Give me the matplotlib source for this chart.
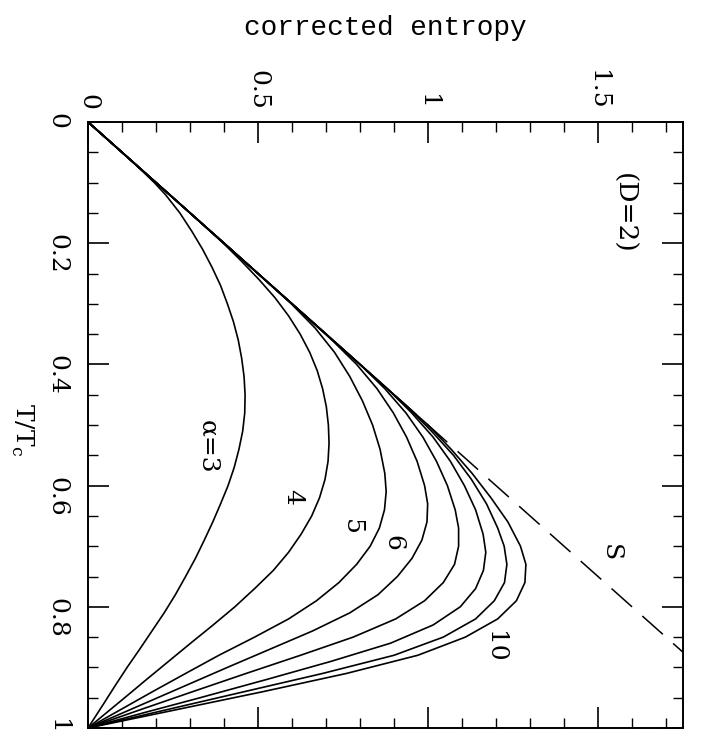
import matplotlib
matplotlib.use("Agg")
import matplotlib.pyplot as plt
from matplotlib.ticker import FixedLocator, MultipleLocator, FixedFormatter

plt.rcParams['font.family'] = ['DejaVu Serif']

# ---- data (T/Tc, corrected entropy) ----
alphas = [3, 4, 5, 6, 7, 8, 9, 10]

T3 = [0, 0.05, 0.08, 0.10, 0.12, 0.15, 0.18, 0.21, 0.24, 0.27, 0.30, 0.33, 0.36, 0.39, 0.42, 0.45, 0.48, 0.51, 0.54, 0.57, 0.60, 0.63, 0.66, 0.69, 0.72, 0.75, 0.78, 0.81, 0.84, 0.87, 0.90, 0.93, 0.96, 1.0]
S3 = [0, 0.10, 0.158, 0.195, 0.228, 0.27, 0.305, 0.337, 0.365, 0.39, 0.41, 0.428, 0.442, 0.452, 0.459, 0.462, 0.461, 0.455, 0.444, 0.43, 0.412, 0.39, 0.367, 0.342, 0.316, 0.287, 0.257, 0.224, 0.188, 0.152, 0.115, 0.08, 0.046, 0]

T4 = [0, 0.1, 0.15, 0.2, 0.23, 0.26, 0.29, 0.32, 0.35, 0.38, 0.41, 0.44, 0.47, 0.50, 0.53, 0.56, 0.59, 0.62, 0.65, 0.68, 0.71, 0.74, 0.77, 0.80, 0.83, 0.86, 0.89, 0.92, 0.95, 0.975, 1.0]
S4 = [0, 0.2, 0.3, 0.398, 0.452, 0.503, 0.55, 0.59, 0.624, 0.652, 0.674, 0.69, 0.701, 0.707, 0.709, 0.706, 0.697, 0.681, 0.658, 0.627, 0.59, 0.545, 0.49, 0.432, 0.368, 0.302, 0.237, 0.172, 0.108, 0.054, 0]

T5 = [0, 0.2, 0.3, 0.34, 0.38, 0.42, 0.46, 0.50, 0.54, 0.58, 0.61, 0.64, 0.67, 0.70, 0.73, 0.76, 0.79, 0.82, 0.85, 0.88, 0.91, 0.94, 0.97, 1.0]
S5 = [0, 0.4, 0.598, 0.668, 0.725, 0.77, 0.807, 0.837, 0.859, 0.873, 0.877, 0.872, 0.857, 0.83, 0.79, 0.738, 0.672, 0.59, 0.49, 0.385, 0.287, 0.19, 0.095, 0]

T6 = [0, 0.3, 0.36, 0.40, 0.44, 0.48, 0.52, 0.56, 0.60, 0.63, 0.66, 0.69, 0.72, 0.75, 0.78, 0.81, 0.84, 0.87, 0.90, 0.93, 0.96, 0.98, 1.0]
S6 = [0, 0.6, 0.718, 0.79, 0.85, 0.898, 0.937, 0.968, 0.99, 0.999, 0.997, 0.982, 0.953, 0.91, 0.853, 0.77, 0.66, 0.535, 0.41, 0.287, 0.164, 0.082, 0]

T7 = [0, 0.4, 0.44, 0.48, 0.52, 0.56, 0.60, 0.64, 0.67, 0.70, 0.73, 0.76, 0.79, 0.82, 0.85, 0.88, 0.91, 0.94, 0.97, 1.0]
S7 = [0, 0.8, 0.873, 0.935, 0.985, 1.025, 1.057, 1.08, 1.09, 1.09, 1.078, 1.045, 0.99, 0.905, 0.78, 0.625, 0.465, 0.308, 0.153, 0]

T8 = [0, 0.44, 0.48, 0.52, 0.56, 0.60, 0.64, 0.68, 0.71, 0.74, 0.77, 0.80, 0.83, 0.86, 0.89, 0.92, 0.95, 0.975, 1.0]
S8 = [0, 0.88, 0.952, 1.015, 1.066, 1.107, 1.14, 1.162, 1.17, 1.163, 1.14, 1.095, 1.015, 0.89, 0.715, 0.525, 0.33, 0.163, 0]

T9 = [0, 0.47, 0.51, 0.55, 0.59, 0.63, 0.67, 0.70, 0.73, 0.76, 0.79, 0.82, 0.85, 0.88, 0.91, 0.94, 0.97, 1.0]
S9 = [0, 0.94, 1.01, 1.075, 1.128, 1.172, 1.205, 1.224, 1.232, 1.225, 1.195, 1.14, 1.045, 0.9, 0.69, 0.46, 0.23, 0]

T10 = [0, 0.5, 0.54, 0.58, 0.62, 0.66, 0.70, 0.73, 0.76, 0.79, 0.82, 0.85, 0.88, 0.91, 0.94, 0.97, 1.0]
S10 = [0, 1.0, 1.068, 1.13, 1.185, 1.235, 1.272, 1.288, 1.285, 1.26, 1.205, 1.11, 0.97, 0.76, 0.515, 0.258, 0]

T_S = [0, 0.875]
S_S = [0, 1.75]

x_ticks = [0, 0.5, 1, 1.5]
x_ticklabels = ["0", "0.5", "1", "1.5"]
y_ticks = [0, 0.2, 0.4, 0.6, 0.8, 1.0]
y_ticklabels = ["0", "0.2", "0.4", "0.6", "0.8", "1"]

curve_T = [T3, T4, T5, T6, T7, T8, T9, T10]
curve_S = [S3, S4, S5, S6, S7, S8, S9, S10]

# ---- figure ----
W, H = 701, 744
fig = plt.figure(figsize=(W / 100, H / 100), dpi=100)
ax = fig.add_axes([88 / W, 1 - 728 / H, (683 - 88) / W, (728 - 122) / H])

for T, S in zip(curve_T, curve_S):
    ax.plot(S, T, color='black', lw=1.2, solid_joinstyle='round', solid_capstyle='round')
ax.plot(S_S, T_S, color='black', lw=1.1, dashes=(18, 9))

ax.set_xlim(0, 1.75)
ax.set_ylim(1, 0)

ax.xaxis.set_major_locator(FixedLocator(x_ticks))
ax.xaxis.set_major_formatter(FixedFormatter(x_ticklabels))
ax.xaxis.set_minor_locator(MultipleLocator(0.1))
ax.yaxis.set_major_locator(FixedLocator(y_ticks))
ax.yaxis.set_major_formatter(FixedFormatter(y_ticklabels))
ax.yaxis.set_minor_locator(MultipleLocator(0.05))

ax.tick_params(which='both', direction='in', top=True, bottom=True, left=True, right=True,
               labeltop=True, labelbottom=False, labelleft=True, labelright=False)
ax.tick_params(which='major', length=15, width=1.2)
ax.tick_params(which='minor', length=7, width=1.0)
ax.tick_params(axis='x', labelrotation=-90, labelsize=18, pad=9)
ax.tick_params(axis='y', labelrotation=-90, labelsize=18, pad=14)
for s in ax.spines.values():
    s.set_linewidth(1.4)

# in-plot labels
txt = dict(rotation=-90, ha='center', va='center', fontsize=18)
ax.text(0.353, 0.536, "α=3", **txt)
ax.text(0.603, 0.619, "4", **txt)
ax.text(0.776, 0.668, "5", **txt)
ax.text(0.897, 0.695, "6", **txt)
ax.text(1.197, 0.866, "10", **txt)
ax.text(1.535, 0.71, "S", **txt)
ax.text(1.574, 0.15, "(D=2)", rotation=-90, ha='center', va='center', fontsize=19)

fig.text(385 / W, 1 - 28 / H, "corrected entropy", ha='center', va='center',
         fontsize=20, family='Liberation Mono')
fig.text(22 / W, 1 - 430 / H, "T/T$_\\mathregular{c}$", rotation=-90, ha='center', va='center',
         fontsize=18)

fig.savefig("out.png", dpi=100)
